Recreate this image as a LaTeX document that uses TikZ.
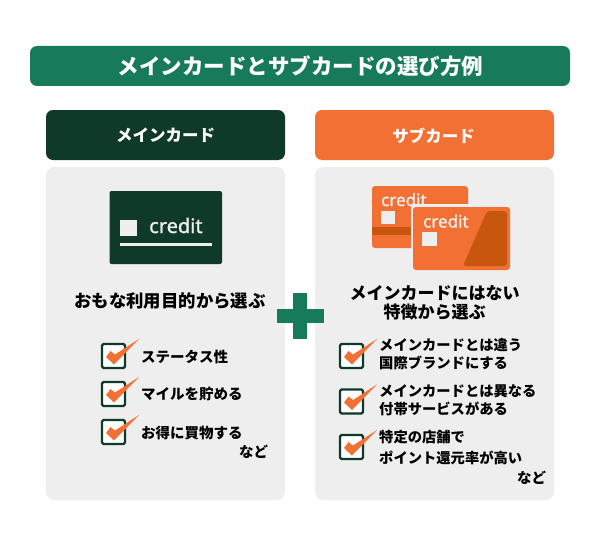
\documentclass[tikz,border=0pt]{standalone}
\usepackage{fontspec}
\setmainfont{Noto Sans CJK JP}
\newfontfamily\credf{Noto Sans}[FakeBold=1.2]
\definecolor{dkgreen}{HTML}{0F3A2A}
\definecolor{midgreen}{HTML}{167A5B}
\definecolor{orange1}{HTML}{F27033}
\definecolor{orange2}{HTML}{C8560E}
\definecolor{panel}{HTML}{EEEEEE}
\newcommand{\chk}[2]{%
  \begin{scope}[shift={(#1,#2)}]
    \draw[line width=2.4pt,dkgreen,fill=white,rounded corners=1.5pt] (0,0) rectangle (23,24);
    \fill[orange1] (4,13) -- (12,20.5) -- (37,-5) -- (13,10.5) -- (8.5,7) -- cycle;
  \end{scope}}
\tikzset{
  every node/.style={font=\bfseries,inner sep=0pt,text=black},
  lab/.style={anchor=west,font=\fontsize{14.5}{19}\selectfont\bfseries},
  ttl/.style={font=\fontsize{17.4}{22}\selectfont\bfseries,align=center},
  hdr/.style={font=\fontsize{16.5}{20}\selectfont\bfseries,text=white},
  cred/.style={anchor=base west,text=panel,font=\credf\fontsize{17}{20}\selectfont}
}
\begin{document}
\begin{tikzpicture}[x=1pt,y=-1pt]
\useasboundingbox (0,0) rectangle (600,543);
\fill[white] (0,0) rectangle (600,543);
% title
\fill[midgreen,rounded corners=7pt] (30,46) rectangle (570,86);
\node[font=\fontsize{21.5}{26}\selectfont\bfseries,text=white] (title) at (300.5,66) {メインカードとサブカードの選び方例};
% headers
\fill[dkgreen,rounded corners=7pt] (46,110) rectangle (285,160);
\node[hdr] (h1) at (165.5,135.5) {メインカード};
\fill[orange1,rounded corners=7pt] (315,110) rectangle (554,160);
\node[hdr] (h2) at (433.5,135.5) {サブカード};
% panels
\fill[panel,rounded corners=8pt] (46,167) rectangle (285,500);
\fill[panel,rounded corners=8pt] (315,167) rectangle (554,500);
% plus
\fill[midgreen] (277,309) rectangle (324,323);
\fill[midgreen] (293,293) rectangle (307,339);
% left card
\fill[dkgreen,rounded corners=2pt] (109.5,191) rectangle (222,264);
\fill[panel] (120,219.5) rectangle (136.5,236);
\node[cred,font=\credf\fontsize{20}{24}\selectfont] (c1) at (149,233) {credit};
\fill[panel] (120,243) rectangle (212,245.5);
% right back card
\fill[orange1,rounded corners=3pt] (372,186) rectangle (468,248);
\fill[orange2] (372,227) rectangle (468,235);
\node[cred] (c2) at (381,206) {credit};
\fill[panel] (380.5,211) rectangle (394.5,224);
% right front card
\fill[panel,rounded corners=3pt] (411,204) rectangle (512,272);
\fill[orange1,rounded corners=3pt] (413,207) rectangle (510,270);
\fill[orange2,rounded corners=3pt] (487,211) -- (507,211) -- (507,266) -- (463,266) -- cycle;
\node[cred] (c3) at (423,227.5) {credit};
\fill[panel] (422,232) rectangle (436.5,246);
% headings
\node[ttl] (t1) at (170,300.5) {おもな利用目的から選ぶ};
\node[ttl,font=\fontsize{17}{19}\selectfont\bfseries] (t2) at (434.5,302.5) {メインカードにはない\\特徴から選ぶ};
% left list
\chk{102}{344}
\chk{102}{382}
\chk{102}{420}
\node[lab] (l1) at (141,356.5) {ステータス性};
\node[lab] (l2) at (141,394.5) {マイルを貯める};
\node[lab] (l3) at (141,433) {お得に買物する};
\node[lab] (l4) at (239,452) {など};
% right list
\chk{340}{344}
\chk{340}{389.5}
\chk{340}{435}
\node[lab,align=left,font=\fontsize{14.3}{18.5}\selectfont\bfseries] (r1) at (379,354) {メインカードとは違う\\国際ブランドにする};
\node[lab,align=left,font=\fontsize{14.3}{18}\selectfont\bfseries] (r2) at (379,400) {メインカードとは異なる\\付帯サービスがある};
\node[lab,align=left,font=\fontsize{14.3}{21}\selectfont\bfseries] (r3) at (379,447.5) {特定の店舗で\\ポイント還元率が高い};
\node[lab] (r4) at (517,478) {など};
\end{tikzpicture}
\end{document}
